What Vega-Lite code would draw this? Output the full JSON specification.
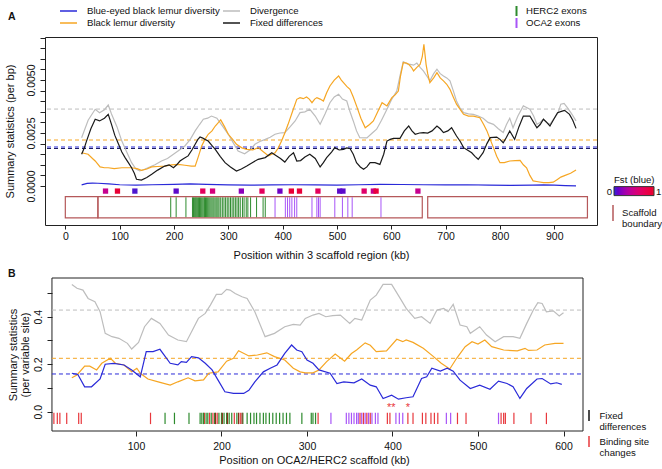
{
"$schema": "https://vega.github.io/schema/vega-lite/v6.json",
"padding": {"left": 3, "top": 5, "right": 0, "bottom": 0},
"config": {
  "font": "Liberation Sans",
  "view": {"stroke": "#222222", "strokeWidth": 1},
  "axis": {"domain": false, "grid": false, "tickColor": "#222222", "labelColor": "#111111", "titleColor": "#111111", "labelFontSize": 10.5, "titleFontSize": 11, "titleFontWeight": "normal", "labelFlush": false, "labelBound": false, "labelOverlap": false},
  "legend": {"labelFontSize": 9.6, "titleFontSize": 9.6, "titleFontWeight": "normal", "labelColor": "#111111", "titleColor": "#111111", "padding": 0},
  "title": {"fontSize": 10.5, "fontWeight": "bold", "color": "#111111"}
},
"datasets": {
  "linesA": [
    {"s":"Divergence","x":30,"y":0.00228},{"s":"Divergence","x":42,"y":0.0031},{"s":"Divergence","x":55,"y":0.00362},{"s":"Divergence","x":63,"y":0.00346},{"s":"Divergence","x":72,"y":0.0036},{"s":"Divergence","x":79,"y":0.00382},{"s":"Divergence","x":85,"y":0.0034},{"s":"Divergence","x":95,"y":0.0028},{"s":"Divergence","x":104,"y":0.00212},{"s":"Divergence","x":113,"y":0.0016},{"s":"Divergence","x":122,"y":0.0011},{"s":"Divergence","x":130,"y":0.0008},{"s":"Divergence","x":137,"y":0.00071},{"s":"Divergence","x":145,"y":0.00078},{"s":"Divergence","x":152,"y":0.00086},{"s":"Divergence","x":165,"y":0.001},{"s":"Divergence","x":177,"y":0.00118},{"s":"Divergence","x":188,"y":0.0013},{"s":"Divergence","x":199,"y":0.0015},{"s":"Divergence","x":210,"y":0.0017},{"s":"Divergence","x":220,"y":0.00189},{"s":"Divergence","x":230,"y":0.0022},{"s":"Divergence","x":239,"y":0.0026},{"s":"Divergence","x":247,"y":0.0029},{"s":"Divergence","x":254,"y":0.00315},{"s":"Divergence","x":262,"y":0.0032},{"s":"Divergence","x":269,"y":0.0033},{"s":"Divergence","x":279,"y":0.0032},{"s":"Divergence","x":290,"y":0.0028},{"s":"Divergence","x":300,"y":0.00244},{"s":"Divergence","x":310,"y":0.002},{"s":"Divergence","x":318,"y":0.00165},{"s":"Divergence","x":330,"y":0.00152},{"s":"Divergence","x":340,"y":0.0017},{"s":"Divergence","x":349,"y":0.00197},{"s":"Divergence","x":358,"y":0.0021},{"s":"Divergence","x":368,"y":0.0022},{"s":"Divergence","x":377,"y":0.0023},{"s":"Divergence","x":386,"y":0.00244},{"s":"Divergence","x":395,"y":0.0025},{"s":"Divergence","x":404,"y":0.00252},{"s":"Divergence","x":414,"y":0.0028},{"s":"Divergence","x":423,"y":0.00307},{"s":"Divergence","x":432,"y":0.00346},{"s":"Divergence","x":441,"y":0.0035},{"s":"Divergence","x":450,"y":0.00362},{"s":"Divergence","x":460,"y":0.0033},{"s":"Divergence","x":469,"y":0.00291},{"s":"Divergence","x":478,"y":0.0034},{"s":"Divergence","x":487,"y":0.00393},{"s":"Divergence","x":495,"y":0.0042},{"s":"Divergence","x":503,"y":0.00433},{"s":"Divergence","x":510,"y":0.0041},{"s":"Divergence","x":518,"y":0.00401},{"s":"Divergence","x":524,"y":0.0035},{"s":"Divergence","x":530,"y":0.00307},{"s":"Divergence","x":536,"y":0.0026},{"s":"Divergence","x":542,"y":0.00228},{"s":"Divergence","x":555,"y":0.00227},{"s":"Divergence","x":565,"y":0.0025},{"s":"Divergence","x":573,"y":0.00268},{"s":"Divergence","x":582,"y":0.0031},{"s":"Divergence","x":592,"y":0.00362},{"s":"Divergence","x":601,"y":0.0041},{"s":"Divergence","x":610,"y":0.00448},{"s":"Divergence","x":616,"y":0.0052},{"s":"Divergence","x":622,"y":0.00587},{"s":"Divergence","x":630,"y":0.00575},{"s":"Divergence","x":635,"y":0.00574},{"s":"Divergence","x":641,"y":0.0057},{"s":"Divergence","x":647,"y":0.0058},{"s":"Divergence","x":653,"y":0.0056},{"s":"Divergence","x":659,"y":0.00543},{"s":"Divergence","x":665,"y":0.0052},{"s":"Divergence","x":671,"y":0.00496},{"s":"Divergence","x":678,"y":0.0053},{"s":"Divergence","x":684,"y":0.00551},{"s":"Divergence","x":690,"y":0.0053},{"s":"Divergence","x":696,"y":0.00519},{"s":"Divergence","x":702,"y":0.0051},{"s":"Divergence","x":708,"y":0.00496},{"s":"Divergence","x":714,"y":0.0045},{"s":"Divergence","x":720,"y":0.00401},{"s":"Divergence","x":726,"y":0.0037},{"s":"Divergence","x":733,"y":0.00346},{"s":"Divergence","x":742,"y":0.0034},{"s":"Divergence","x":751,"y":0.00338},{"s":"Divergence","x":760,"y":0.0033},{"s":"Divergence","x":769,"y":0.0032},{"s":"Divergence","x":778,"y":0.003},{"s":"Divergence","x":788,"y":0.00291},{"s":"Divergence","x":797,"y":0.0027},{"s":"Divergence","x":806,"y":0.00252},{"s":"Divergence","x":812,"y":0.0029},{"s":"Divergence","x":818,"y":0.0032},{"s":"Divergence","x":824,"y":0.00275},{"s":"Divergence","x":833,"y":0.0033},{"s":"Divergence","x":843,"y":0.00378},{"s":"Divergence","x":849,"y":0.0037},{"s":"Divergence","x":855,"y":0.00362},{"s":"Divergence","x":862,"y":0.0033},{"s":"Divergence","x":868,"y":0.00291},{"s":"Divergence","x":874,"y":0.003},{"s":"Divergence","x":880,"y":0.00316},{"s":"Divergence","x":886,"y":0.003},{"s":"Divergence","x":892,"y":0.00291},{"s":"Divergence","x":900,"y":0.0032},{"s":"Divergence","x":907,"y":0.00346},{"s":"Divergence","x":912,"y":0.00386},{"s":"Divergence","x":918,"y":0.0039},{"s":"Divergence","x":924,"y":0.0037},{"s":"Divergence","x":932,"y":0.0034},{"s":"Divergence","x":940,"y":0.00307},
    {"s":"Black lemur diversity","x":30,"y":0.00157},{"s":"Black lemur diversity","x":42,"y":0.0015},{"s":"Black lemur diversity","x":50,"y":0.0013},{"s":"Black lemur diversity","x":55,"y":0.00118},{"s":"Black lemur diversity","x":64,"y":0.0009},{"s":"Black lemur diversity","x":72,"y":0.00086},{"s":"Black lemur diversity","x":79,"y":0.00086},{"s":"Black lemur diversity","x":90,"y":0.00082},{"s":"Black lemur diversity","x":104,"y":0.00086},{"s":"Black lemur diversity","x":122,"y":0.00086},{"s":"Black lemur diversity","x":132,"y":0.00082},{"s":"Black lemur diversity","x":140,"y":0.00074},{"s":"Black lemur diversity","x":150,"y":0.0008},{"s":"Black lemur diversity","x":159,"y":0.0009},{"s":"Black lemur diversity","x":170,"y":0.00092},{"s":"Black lemur diversity","x":183,"y":0.00094},{"s":"Black lemur diversity","x":195,"y":0.001},{"s":"Black lemur diversity","x":208,"y":0.00102},{"s":"Black lemur diversity","x":220,"y":0.00098},{"s":"Black lemur diversity","x":232,"y":0.00094},{"s":"Black lemur diversity","x":239,"y":0.00094},{"s":"Black lemur diversity","x":245,"y":0.0014},{"s":"Black lemur diversity","x":251,"y":0.00189},{"s":"Black lemur diversity","x":257,"y":0.0022},{"s":"Black lemur diversity","x":263,"y":0.00244},{"s":"Black lemur diversity","x":270,"y":0.0026},{"s":"Black lemur diversity","x":276,"y":0.00283},{"s":"Black lemur diversity","x":282,"y":0.003},{"s":"Black lemur diversity","x":286,"y":0.00312},{"s":"Black lemur diversity","x":293,"y":0.0028},{"s":"Black lemur diversity","x":300,"y":0.00244},{"s":"Black lemur diversity","x":308,"y":0.0022},{"s":"Black lemur diversity","x":315,"y":0.00197},{"s":"Black lemur diversity","x":325,"y":0.0018},{"s":"Black lemur diversity","x":334,"y":0.00173},{"s":"Black lemur diversity","x":345,"y":0.0017},{"s":"Black lemur diversity","x":355,"y":0.00181},{"s":"Black lemur diversity","x":365,"y":0.0016},{"s":"Black lemur diversity","x":374,"y":0.00142},{"s":"Black lemur diversity","x":380,"y":0.0015},{"s":"Black lemur diversity","x":386,"y":0.00157},{"s":"Black lemur diversity","x":392,"y":0.0018},{"s":"Black lemur diversity","x":398,"y":0.00212},{"s":"Black lemur diversity","x":404,"y":0.0025},{"s":"Black lemur diversity","x":410,"y":0.00291},{"s":"Black lemur diversity","x":418,"y":0.0035},{"s":"Black lemur diversity","x":426,"y":0.00409},{"s":"Black lemur diversity","x":432,"y":0.00417},{"s":"Black lemur diversity","x":438,"y":0.00412},{"s":"Black lemur diversity","x":444,"y":0.0042},{"s":"Black lemur diversity","x":449,"y":0.0041},{"s":"Black lemur diversity","x":454,"y":0.00393},{"s":"Black lemur diversity","x":459,"y":0.0041},{"s":"Black lemur diversity","x":463,"y":0.00417},{"s":"Black lemur diversity","x":469,"y":0.0041},{"s":"Black lemur diversity","x":475,"y":0.00401},{"s":"Black lemur diversity","x":481,"y":0.0044},{"s":"Black lemur diversity","x":487,"y":0.00472},{"s":"Black lemur diversity","x":495,"y":0.005},{"s":"Black lemur diversity","x":503,"y":0.00519},{"s":"Black lemur diversity","x":508,"y":0.005},{"s":"Black lemur diversity","x":512,"y":0.00488},{"s":"Black lemur diversity","x":518,"y":0.0047},{"s":"Black lemur diversity","x":524,"y":0.00456},{"s":"Black lemur diversity","x":530,"y":0.0042},{"s":"Black lemur diversity","x":536,"y":0.00378},{"s":"Black lemur diversity","x":544,"y":0.0032},{"s":"Black lemur diversity","x":552,"y":0.00275},{"s":"Black lemur diversity","x":560,"y":0.0029},{"s":"Black lemur diversity","x":567,"y":0.00307},{"s":"Black lemur diversity","x":575,"y":0.0035},{"s":"Black lemur diversity","x":583,"y":0.00393},{"s":"Black lemur diversity","x":592,"y":0.00378},{"s":"Black lemur diversity","x":601,"y":0.00417},{"s":"Black lemur diversity","x":607,"y":0.0043},{"s":"Black lemur diversity","x":613,"y":0.00448},{"s":"Black lemur diversity","x":617,"y":0.0052},{"s":"Black lemur diversity","x":622,"y":0.00582},{"s":"Black lemur diversity","x":628,"y":0.0058},{"s":"Black lemur diversity","x":632,"y":0.00574},{"s":"Black lemur diversity","x":637,"y":0.0056},{"s":"Black lemur diversity","x":641,"y":0.00543},{"s":"Black lemur diversity","x":647,"y":0.0056},{"s":"Black lemur diversity","x":653,"y":0.00574},{"s":"Black lemur diversity","x":657,"y":0.0061},{"s":"Black lemur diversity","x":660,"y":0.00669},{"s":"Black lemur diversity","x":664,"y":0.00574},{"s":"Black lemur diversity","x":667,"y":0.0053},{"s":"Black lemur diversity","x":671,"y":0.00488},{"s":"Black lemur diversity","x":678,"y":0.0051},{"s":"Black lemur diversity","x":684,"y":0.00535},{"s":"Black lemur diversity","x":690,"y":0.0051},{"s":"Black lemur diversity","x":696,"y":0.00496},{"s":"Black lemur diversity","x":702,"y":0.0048},{"s":"Black lemur diversity","x":708,"y":0.00456},{"s":"Black lemur diversity","x":714,"y":0.0042},{"s":"Black lemur diversity","x":720,"y":0.00386},{"s":"Black lemur diversity","x":727,"y":0.0036},{"s":"Black lemur diversity","x":733,"y":0.00338},{"s":"Black lemur diversity","x":742,"y":0.0033},{"s":"Black lemur diversity","x":751,"y":0.0033},{"s":"Black lemur diversity","x":763,"y":0.00322},{"s":"Black lemur diversity","x":770,"y":0.0029},{"s":"Black lemur diversity","x":776,"y":0.0026},{"s":"Black lemur diversity","x":782,"y":0.0022},{"s":"Black lemur diversity","x":788,"y":0.00181},{"s":"Black lemur diversity","x":794,"y":0.0014},{"s":"Black lemur diversity","x":800,"y":0.0011},{"s":"Black lemur diversity","x":808,"y":0.0011},{"s":"Black lemur diversity","x":818,"y":0.00118},{"s":"Black lemur diversity","x":828,"y":0.0012},{"s":"Black lemur diversity","x":837,"y":0.00121},{"s":"Black lemur diversity","x":843,"y":0.001},{"s":"Black lemur diversity","x":849,"y":0.00086},{"s":"Black lemur diversity","x":855,"y":0.0005},{"s":"Black lemur diversity","x":861,"y":0.00024},{"s":"Black lemur diversity","x":870,"y":0.0002},{"s":"Black lemur diversity","x":880,"y":0.00016},{"s":"Black lemur diversity","x":890,"y":0.00016},{"s":"Black lemur diversity","x":898,"y":0.00018},{"s":"Black lemur diversity","x":905,"y":0.0003},{"s":"Black lemur diversity","x":912,"y":0.00042},{"s":"Black lemur diversity","x":920,"y":0.0005},{"s":"Black lemur diversity","x":930,"y":0.0006},{"s":"Black lemur diversity","x":940,"y":0.00076},
    {"s":"Fixed differences","x":30,"y":0.0015},{"s":"Fixed differences","x":35,"y":0.0018},{"s":"Fixed differences","x":39,"y":0.00212},{"s":"Fixed differences","x":47,"y":0.0027},{"s":"Fixed differences","x":55,"y":0.00315},{"s":"Fixed differences","x":63,"y":0.00307},{"s":"Fixed differences","x":72,"y":0.0032},{"s":"Fixed differences","x":79,"y":0.00338},{"s":"Fixed differences","x":85,"y":0.00291},{"s":"Fixed differences","x":91,"y":0.0024},{"s":"Fixed differences","x":98,"y":0.00197},{"s":"Fixed differences","x":104,"y":0.0016},{"s":"Fixed differences","x":110,"y":0.00134},{"s":"Fixed differences","x":116,"y":0.0011},{"s":"Fixed differences","x":122,"y":0.00086},{"s":"Fixed differences","x":127,"y":0.0006},{"s":"Fixed differences","x":131,"y":0.00032},{"s":"Fixed differences","x":140,"y":0.00028},{"s":"Fixed differences","x":150,"y":0.0004},{"s":"Fixed differences","x":159,"y":0.00055},{"s":"Fixed differences","x":170,"y":0.00075},{"s":"Fixed differences","x":183,"y":0.00094},{"s":"Fixed differences","x":191,"y":0.001},{"s":"Fixed differences","x":199,"y":0.00086},{"s":"Fixed differences","x":205,"y":0.001},{"s":"Fixed differences","x":211,"y":0.00118},{"s":"Fixed differences","x":218,"y":0.0013},{"s":"Fixed differences","x":226,"y":0.00142},{"s":"Fixed differences","x":233,"y":0.0017},{"s":"Fixed differences","x":239,"y":0.00197},{"s":"Fixed differences","x":244,"y":0.0022},{"s":"Fixed differences","x":248,"y":0.00231},{"s":"Fixed differences","x":253,"y":0.00226},{"s":"Fixed differences","x":257,"y":0.0022},{"s":"Fixed differences","x":263,"y":0.00212},{"s":"Fixed differences","x":270,"y":0.0019},{"s":"Fixed differences","x":276,"y":0.00173},{"s":"Fixed differences","x":285,"y":0.0014},{"s":"Fixed differences","x":294,"y":0.0011},{"s":"Fixed differences","x":304,"y":0.0009},{"s":"Fixed differences","x":315,"y":0.00071},{"s":"Fixed differences","x":324,"y":0.0008},{"s":"Fixed differences","x":334,"y":0.00094},{"s":"Fixed differences","x":344,"y":0.0011},{"s":"Fixed differences","x":355,"y":0.00126},{"s":"Fixed differences","x":368,"y":0.00134},{"s":"Fixed differences","x":380,"y":0.00157},{"s":"Fixed differences","x":389,"y":0.00142},{"s":"Fixed differences","x":396,"y":0.0013},{"s":"Fixed differences","x":404,"y":0.00113},{"s":"Fixed differences","x":412,"y":0.0014},{"s":"Fixed differences","x":420,"y":0.00157},{"s":"Fixed differences","x":426,"y":0.00118},{"s":"Fixed differences","x":433,"y":0.0012},{"s":"Fixed differences","x":441,"y":0.00137},{"s":"Fixed differences","x":450,"y":0.0015},{"s":"Fixed differences","x":460,"y":0.0013},{"s":"Fixed differences","x":469,"y":0.0009},{"s":"Fixed differences","x":475,"y":0.0011},{"s":"Fixed differences","x":481,"y":0.00134},{"s":"Fixed differences","x":490,"y":0.0016},{"s":"Fixed differences","x":496,"y":0.00181},{"s":"Fixed differences","x":504,"y":0.0017},{"s":"Fixed differences","x":512,"y":0.00173},{"s":"Fixed differences","x":518,"y":0.0018},{"s":"Fixed differences","x":524,"y":0.00177},{"s":"Fixed differences","x":530,"y":0.0015},{"s":"Fixed differences","x":536,"y":0.0011},{"s":"Fixed differences","x":543,"y":0.0009},{"s":"Fixed differences","x":549,"y":0.00079},{"s":"Fixed differences","x":555,"y":0.0009},{"s":"Fixed differences","x":561,"y":0.0011},{"s":"Fixed differences","x":570,"y":0.0011},{"s":"Fixed differences","x":579,"y":0.00102},{"s":"Fixed differences","x":586,"y":0.0015},{"s":"Fixed differences","x":592,"y":0.00212},{"s":"Fixed differences","x":598,"y":0.0022},{"s":"Fixed differences","x":604,"y":0.00225},{"s":"Fixed differences","x":616,"y":0.00225},{"s":"Fixed differences","x":624,"y":0.0026},{"s":"Fixed differences","x":632,"y":0.00283},{"s":"Fixed differences","x":638,"y":0.0026},{"s":"Fixed differences","x":644,"y":0.00244},{"s":"Fixed differences","x":652,"y":0.0025},{"s":"Fixed differences","x":659,"y":0.00252},{"s":"Fixed differences","x":667,"y":0.0025},{"s":"Fixed differences","x":675,"y":0.0026},{"s":"Fixed differences","x":684,"y":0.00283},{"s":"Fixed differences","x":690,"y":0.0027},{"s":"Fixed differences","x":696,"y":0.00252},{"s":"Fixed differences","x":704,"y":0.0026},{"s":"Fixed differences","x":711,"y":0.00275},{"s":"Fixed differences","x":720,"y":0.00236},{"s":"Fixed differences","x":727,"y":0.0021},{"s":"Fixed differences","x":733,"y":0.00181},{"s":"Fixed differences","x":740,"y":0.0017},{"s":"Fixed differences","x":748,"y":0.00157},{"s":"Fixed differences","x":754,"y":0.0014},{"s":"Fixed differences","x":760,"y":0.00126},{"s":"Fixed differences","x":769,"y":0.00157},{"s":"Fixed differences","x":776,"y":0.002},{"s":"Fixed differences","x":782,"y":0.00228},{"s":"Fixed differences","x":794,"y":0.00231},{"s":"Fixed differences","x":800,"y":0.0022},{"s":"Fixed differences","x":806,"y":0.00204},{"s":"Fixed differences","x":812,"y":0.0023},{"s":"Fixed differences","x":818,"y":0.0026},{"s":"Fixed differences","x":827,"y":0.0022},{"s":"Fixed differences","x":835,"y":0.0028},{"s":"Fixed differences","x":843,"y":0.0033},{"s":"Fixed differences","x":855,"y":0.0033},{"s":"Fixed differences","x":862,"y":0.003},{"s":"Fixed differences","x":868,"y":0.00275},{"s":"Fixed differences","x":874,"y":0.0029},{"s":"Fixed differences","x":880,"y":0.00315},{"s":"Fixed differences","x":886,"y":0.003},{"s":"Fixed differences","x":892,"y":0.00283},{"s":"Fixed differences","x":898,"y":0.0031},{"s":"Fixed differences","x":906,"y":0.00346},{"s":"Fixed differences","x":913,"y":0.00352},{"s":"Fixed differences","x":919,"y":0.00357},{"s":"Fixed differences","x":928,"y":0.00338},{"s":"Fixed differences","x":934,"y":0.0031},{"s":"Fixed differences","x":940,"y":0.00272},
    {"s":"Blue-eyed black lemur diversity","x":30,"y":0.00005},{"s":"Blue-eyed black lemur diversity","x":40,"y":0.00012},{"s":"Blue-eyed black lemur diversity","x":50,"y":0.00014},{"s":"Blue-eyed black lemur diversity","x":60,"y":0.00013},{"s":"Blue-eyed black lemur diversity","x":80,"y":0.0001},{"s":"Blue-eyed black lemur diversity","x":100,"y":0.00006},{"s":"Blue-eyed black lemur diversity","x":130,"y":0.00004},{"s":"Blue-eyed black lemur diversity","x":160,"y":0.00006},{"s":"Blue-eyed black lemur diversity","x":200,"y":0.00008},{"s":"Blue-eyed black lemur diversity","x":230,"y":0.0001},{"s":"Blue-eyed black lemur diversity","x":260,"y":0.00008},{"s":"Blue-eyed black lemur diversity","x":300,"y":0.00005},{"s":"Blue-eyed black lemur diversity","x":340,"y":0.00004},{"s":"Blue-eyed black lemur diversity","x":380,"y":0.00005},{"s":"Blue-eyed black lemur diversity","x":420,"y":0.00006},{"s":"Blue-eyed black lemur diversity","x":460,"y":0.00005},{"s":"Blue-eyed black lemur diversity","x":500,"y":0.00004},{"s":"Blue-eyed black lemur diversity","x":540,"y":0.00006},{"s":"Blue-eyed black lemur diversity","x":580,"y":0.00008},{"s":"Blue-eyed black lemur diversity","x":620,"y":0.00007},{"s":"Blue-eyed black lemur diversity","x":660,"y":0.00006},{"s":"Blue-eyed black lemur diversity","x":700,"y":0.00005},{"s":"Blue-eyed black lemur diversity","x":740,"y":0.00006},{"s":"Blue-eyed black lemur diversity","x":780,"y":0.00004},{"s":"Blue-eyed black lemur diversity","x":820,"y":0.00003},{"s":"Blue-eyed black lemur diversity","x":860,"y":0.00004},{"s":"Blue-eyed black lemur diversity","x":880,"y":0.00005},{"s":"Blue-eyed black lemur diversity","x":900,"y":0.00004},{"s":"Blue-eyed black lemur diversity","x":920,"y":0.00002},{"s":"Blue-eyed black lemur diversity","x":940,"y":0.00001}
  ],
  "meansA": [
    {"s":"Divergence","y":0.00363},{"s":"Black lemur diversity","y":0.00217},{"s":"Blue-eyed black lemur diversity","y":0.00184},{"s":"Fixed differences","y":0.00177}
  ],
  "fst": [
    {"x":74,"f":0.45},{"x":96,"f":0.95},{"x":128,"f":0.05},{"x":204,"f":0.08},{"x":253,"f":0.72},{"x":271,"f":0.55},{"x":324,"f":0.2},{"x":362,"f":0.72},{"x":395,"f":0.12},{"x":416,"f":0.95},{"x":431,"f":0.92},{"x":465,"f":0.72},{"x":505,"f":0.08},{"x":511,"f":0.08},{"x":550,"f":0.65},{"x":567,"f":0.45},{"x":572,"f":0.9},{"x":649,"f":0.45}
  ],
  "boxes": [
    {"start":0,"end":60,"k":"Scaffold boundary"},{"start":60,"end":657,"k":"Scaffold boundary"},{"start":667,"end":961,"k":"Scaffold boundary"}
  ],
  "exonsA": [
    {"g":"HERC2 exons","x":194},{"g":"HERC2 exons","x":204},{"g":"HERC2 exons","x":222},{"g":"HERC2 exons","x":234},{"g":"HERC2 exons","x":236},{"g":"HERC2 exons","x":238},{"g":"HERC2 exons","x":240},{"g":"HERC2 exons","x":241},{"g":"HERC2 exons","x":243},{"g":"HERC2 exons","x":245},{"g":"HERC2 exons","x":247},{"g":"HERC2 exons","x":249},{"g":"HERC2 exons","x":251},{"g":"HERC2 exons","x":253},{"g":"HERC2 exons","x":255},{"g":"HERC2 exons","x":256},{"g":"HERC2 exons","x":258},{"g":"HERC2 exons","x":260},{"g":"HERC2 exons","x":262},{"g":"HERC2 exons","x":264},{"g":"HERC2 exons","x":266},{"g":"HERC2 exons","x":268},{"g":"HERC2 exons","x":270},{"g":"HERC2 exons","x":272},{"g":"HERC2 exons","x":274},{"g":"HERC2 exons","x":277},{"g":"HERC2 exons","x":279},{"g":"HERC2 exons","x":281},{"g":"HERC2 exons","x":283},{"g":"HERC2 exons","x":286},{"g":"HERC2 exons","x":289},{"g":"HERC2 exons","x":292},{"g":"HERC2 exons","x":295},{"g":"HERC2 exons","x":298},{"g":"HERC2 exons","x":301},{"g":"HERC2 exons","x":304},{"g":"HERC2 exons","x":307},{"g":"HERC2 exons","x":310},{"g":"HERC2 exons","x":313},{"g":"HERC2 exons","x":316},{"g":"HERC2 exons","x":319},{"g":"HERC2 exons","x":322},{"g":"HERC2 exons","x":326},{"g":"HERC2 exons","x":329},{"g":"HERC2 exons","x":333},{"g":"HERC2 exons","x":336},{"g":"HERC2 exons","x":341},{"g":"HERC2 exons","x":352},{"g":"HERC2 exons","x":364},{"g":"HERC2 exons","x":368},
    {"g":"OCA2 exons","x":386},{"g":"OCA2 exons","x":405},{"g":"OCA2 exons","x":409},{"g":"OCA2 exons","x":413},{"g":"OCA2 exons","x":417},{"g":"OCA2 exons","x":422},{"g":"OCA2 exons","x":426},{"g":"OCA2 exons","x":454},{"g":"OCA2 exons","x":463},{"g":"OCA2 exons","x":466},{"g":"OCA2 exons","x":469},{"g":"OCA2 exons","x":496},{"g":"OCA2 exons","x":510},{"g":"OCA2 exons","x":520},{"g":"OCA2 exons","x":528},{"g":"OCA2 exons","x":581}
  ],
  "linesB": [
    {"s":"Divergence","x":25,"y":0.536},{"s":"Divergence","x":31,"y":0.52},{"s":"Divergence","x":38,"y":0.512},{"s":"Divergence","x":44,"y":0.477},{"s":"Divergence","x":52,"y":0.463},{"s":"Divergence","x":58,"y":0.421},{"s":"Divergence","x":64,"y":0.33},{"s":"Divergence","x":72,"y":0.316},{"s":"Divergence","x":80,"y":0.309},{"s":"Divergence","x":90,"y":0.288},{"s":"Divergence","x":95,"y":0.264},{"s":"Divergence","x":103,"y":0.292},{"s":"Divergence","x":110,"y":0.358},{"s":"Divergence","x":118,"y":0.393},{"s":"Divergence","x":128,"y":0.372},{"s":"Divergence","x":138,"y":0.323},{"s":"Divergence","x":149,"y":0.302},{"s":"Divergence","x":159,"y":0.295},{"s":"Divergence","x":165,"y":0.337},{"s":"Divergence","x":173,"y":0.393},{"s":"Divergence","x":181,"y":0.414},{"s":"Divergence","x":187,"y":0.449},{"s":"Divergence","x":194,"y":0.494},{"s":"Divergence","x":200,"y":0.494},{"s":"Divergence","x":206,"y":0.515},{"s":"Divergence","x":210,"y":0.512},{"s":"Divergence","x":216,"y":0.498},{"s":"Divergence","x":224,"y":0.484},{"s":"Divergence","x":230,"y":0.477},{"s":"Divergence","x":239,"y":0.421},{"s":"Divergence","x":251,"y":0.316},{"s":"Divergence","x":262,"y":0.33},{"s":"Divergence","x":274,"y":0.358},{"s":"Divergence","x":284,"y":0.368},{"s":"Divergence","x":292,"y":0.365},{"s":"Divergence","x":298,"y":0.393},{"s":"Divergence","x":307,"y":0.407},{"s":"Divergence","x":314,"y":0.414},{"s":"Divergence","x":322,"y":0.4},{"s":"Divergence","x":330,"y":0.405},{"s":"Divergence","x":339,"y":0.407},{"s":"Divergence","x":350,"y":0.372},{"s":"Divergence","x":356,"y":0.393},{"s":"Divergence","x":364,"y":0.386},{"s":"Divergence","x":374,"y":0.47},{"s":"Divergence","x":381,"y":0.491},{"s":"Divergence","x":389,"y":0.536},{"s":"Divergence","x":399,"y":0.536},{"s":"Divergence","x":409,"y":0.477},{"s":"Divergence","x":416,"y":0.435},{"s":"Divergence","x":426,"y":0.393},{"s":"Divergence","x":434,"y":0.4},{"s":"Divergence","x":444,"y":0.372},{"s":"Divergence","x":452,"y":0.428},{"s":"Divergence","x":460,"y":0.435},{"s":"Divergence","x":465,"y":0.421},{"s":"Divergence","x":471,"y":0.452},{"s":"Divergence","x":479,"y":0.365},{"s":"Divergence","x":487,"y":0.358},{"s":"Divergence","x":491,"y":0.33},{"s":"Divergence","x":502,"y":0.358},{"s":"Divergence","x":510,"y":0.323},{"s":"Divergence","x":520,"y":0.295},{"s":"Divergence","x":530,"y":0.316},{"s":"Divergence","x":541,"y":0.316},{"s":"Divergence","x":549,"y":0.309},{"s":"Divergence","x":557,"y":0.372},{"s":"Divergence","x":565,"y":0.43},{"s":"Divergence","x":570,"y":0.459},{"s":"Divergence","x":575,"y":0.456},{"s":"Divergence","x":580,"y":0.421},{"s":"Divergence","x":588,"y":0.425},{"s":"Divergence","x":595,"y":0.403},{"s":"Divergence","x":600,"y":0.417},
    {"s":"Black lemur diversity","x":25,"y":0.143},{"s":"Black lemur diversity","x":31,"y":0.155},{"s":"Black lemur diversity","x":40,"y":0.192},{"s":"Black lemur diversity","x":46,"y":0.192},{"s":"Black lemur diversity","x":54,"y":0.176},{"s":"Black lemur diversity","x":60,"y":0.204},{"s":"Black lemur diversity","x":70,"y":0.225},{"s":"Black lemur diversity","x":76,"y":0.204},{"s":"Black lemur diversity","x":86,"y":0.197},{"s":"Black lemur diversity","x":95,"y":0.168},{"s":"Black lemur diversity","x":101,"y":0.183},{"s":"Black lemur diversity","x":105,"y":0.162},{"s":"Black lemur diversity","x":114,"y":0.138},{"s":"Black lemur diversity","x":126,"y":0.126},{"s":"Black lemur diversity","x":140,"y":0.112},{"s":"Black lemur diversity","x":149,"y":0.126},{"s":"Black lemur diversity","x":161,"y":0.143},{"s":"Black lemur diversity","x":169,"y":0.13},{"s":"Black lemur diversity","x":179,"y":0.134},{"s":"Black lemur diversity","x":185,"y":0.162},{"s":"Black lemur diversity","x":196,"y":0.168},{"s":"Black lemur diversity","x":206,"y":0.213},{"s":"Black lemur diversity","x":214,"y":0.225},{"s":"Black lemur diversity","x":220,"y":0.257},{"s":"Black lemur diversity","x":232,"y":0.235},{"s":"Black lemur diversity","x":242,"y":0.239},{"s":"Black lemur diversity","x":253,"y":0.248},{"s":"Black lemur diversity","x":262,"y":0.232},{"s":"Black lemur diversity","x":274,"y":0.218},{"s":"Black lemur diversity","x":284,"y":0.183},{"s":"Black lemur diversity","x":292,"y":0.168},{"s":"Black lemur diversity","x":298,"y":0.164},{"s":"Black lemur diversity","x":307,"y":0.164},{"s":"Black lemur diversity","x":314,"y":0.176},{"s":"Black lemur diversity","x":323,"y":0.211},{"s":"Black lemur diversity","x":333,"y":0.243},{"s":"Black lemur diversity","x":344,"y":0.213},{"s":"Black lemur diversity","x":352,"y":0.245},{"s":"Black lemur diversity","x":358,"y":0.26},{"s":"Black lemur diversity","x":368,"y":0.29},{"s":"Black lemur diversity","x":374,"y":0.28},{"s":"Black lemur diversity","x":381,"y":0.253},{"s":"Black lemur diversity","x":393,"y":0.256},{"s":"Black lemur diversity","x":405,"y":0.305},{"s":"Black lemur diversity","x":412,"y":0.295},{"s":"Black lemur diversity","x":416,"y":0.302},{"s":"Black lemur diversity","x":424,"y":0.292},{"s":"Black lemur diversity","x":436,"y":0.267},{"s":"Black lemur diversity","x":448,"y":0.232},{"s":"Black lemur diversity","x":457,"y":0.204},{"s":"Black lemur diversity","x":467,"y":0.18},{"s":"Black lemur diversity","x":475,"y":0.225},{"s":"Black lemur diversity","x":485,"y":0.274},{"s":"Black lemur diversity","x":493,"y":0.295},{"s":"Black lemur diversity","x":500,"y":0.285},{"s":"Black lemur diversity","x":508,"y":0.302},{"s":"Black lemur diversity","x":516,"y":0.274},{"s":"Black lemur diversity","x":530,"y":0.26},{"s":"Black lemur diversity","x":546,"y":0.256},{"s":"Black lemur diversity","x":555,"y":0.267},{"s":"Black lemur diversity","x":559,"y":0.258},{"s":"Black lemur diversity","x":569,"y":0.26},{"s":"Black lemur diversity","x":578,"y":0.281},{"s":"Black lemur diversity","x":590,"y":0.288},{"s":"Black lemur diversity","x":600,"y":0.288},
    {"s":"Blue-eyed black lemur diversity","x":25,"y":0.162},{"s":"Blue-eyed black lemur diversity","x":32,"y":0.157},{"s":"Blue-eyed black lemur diversity","x":40,"y":0.105},{"s":"Blue-eyed black lemur diversity","x":48,"y":0.105},{"s":"Blue-eyed black lemur diversity","x":58,"y":0.138},{"s":"Blue-eyed black lemur diversity","x":64,"y":0.2},{"s":"Blue-eyed black lemur diversity","x":74,"y":0.204},{"s":"Blue-eyed black lemur diversity","x":86,"y":0.197},{"s":"Blue-eyed black lemur diversity","x":95,"y":0.176},{"s":"Blue-eyed black lemur diversity","x":105,"y":0.147},{"s":"Blue-eyed black lemur diversity","x":112,"y":0.253},{"s":"Blue-eyed black lemur diversity","x":120,"y":0.253},{"s":"Blue-eyed black lemur diversity","x":128,"y":0.263},{"s":"Blue-eyed black lemur diversity","x":140,"y":0.204},{"s":"Blue-eyed black lemur diversity","x":149,"y":0.197},{"s":"Blue-eyed black lemur diversity","x":153,"y":0.211},{"s":"Blue-eyed black lemur diversity","x":159,"y":0.208},{"s":"Blue-eyed black lemur diversity","x":165,"y":0.232},{"s":"Blue-eyed black lemur diversity","x":173,"y":0.227},{"s":"Blue-eyed black lemur diversity","x":181,"y":0.204},{"s":"Blue-eyed black lemur diversity","x":189,"y":0.176},{"s":"Blue-eyed black lemur diversity","x":196,"y":0.133},{"s":"Blue-eyed black lemur diversity","x":204,"y":0.084},{"s":"Blue-eyed black lemur diversity","x":214,"y":0.077},{"s":"Blue-eyed black lemur diversity","x":226,"y":0.077},{"s":"Blue-eyed black lemur diversity","x":232,"y":0.09},{"s":"Blue-eyed black lemur diversity","x":239,"y":0.126},{"s":"Blue-eyed black lemur diversity","x":249,"y":0.168},{"s":"Blue-eyed black lemur diversity","x":257,"y":0.183},{"s":"Blue-eyed black lemur diversity","x":265,"y":0.197},{"s":"Blue-eyed black lemur diversity","x":274,"y":0.246},{"s":"Blue-eyed black lemur diversity","x":282,"y":0.281},{"s":"Blue-eyed black lemur diversity","x":288,"y":0.26},{"s":"Blue-eyed black lemur diversity","x":294,"y":0.253},{"s":"Blue-eyed black lemur diversity","x":300,"y":0.218},{"s":"Blue-eyed black lemur diversity","x":307,"y":0.204},{"s":"Blue-eyed black lemur diversity","x":314,"y":0.176},{"s":"Blue-eyed black lemur diversity","x":327,"y":0.162},{"s":"Blue-eyed black lemur diversity","x":335,"y":0.119},{"s":"Blue-eyed black lemur diversity","x":343,"y":0.126},{"s":"Blue-eyed black lemur diversity","x":355,"y":0.122},{"s":"Blue-eyed black lemur diversity","x":364,"y":0.138},{"s":"Blue-eyed black lemur diversity","x":374,"y":0.112},{"s":"Blue-eyed black lemur diversity","x":381,"y":0.105},{"s":"Blue-eyed black lemur diversity","x":389,"y":0.056},{"s":"Blue-eyed black lemur diversity","x":399,"y":0.07},{"s":"Blue-eyed black lemur diversity","x":407,"y":0.053},{"s":"Blue-eyed black lemur diversity","x":416,"y":0.059},{"s":"Blue-eyed black lemur diversity","x":424,"y":0.063},{"s":"Blue-eyed black lemur diversity","x":434,"y":0.14},{"s":"Blue-eyed black lemur diversity","x":440,"y":0.147},{"s":"Blue-eyed black lemur diversity","x":446,"y":0.183},{"s":"Blue-eyed black lemur diversity","x":456,"y":0.171},{"s":"Blue-eyed black lemur diversity","x":464,"y":0.183},{"s":"Blue-eyed black lemur diversity","x":471,"y":0.171},{"s":"Blue-eyed black lemur diversity","x":479,"y":0.133},{"s":"Blue-eyed black lemur diversity","x":491,"y":0.098},{"s":"Blue-eyed black lemur diversity","x":502,"y":0.112},{"s":"Blue-eyed black lemur diversity","x":514,"y":0.095},{"s":"Blue-eyed black lemur diversity","x":524,"y":0.129},{"s":"Blue-eyed black lemur diversity","x":534,"y":0.119},{"s":"Blue-eyed black lemur diversity","x":541,"y":0.105},{"s":"Blue-eyed black lemur diversity","x":549,"y":0.056},{"s":"Blue-eyed black lemur diversity","x":557,"y":0.098},{"s":"Blue-eyed black lemur diversity","x":569,"y":0.138},{"s":"Blue-eyed black lemur diversity","x":575,"y":0.14},{"s":"Blue-eyed black lemur diversity","x":585,"y":0.117},{"s":"Blue-eyed black lemur diversity","x":592,"y":0.122},{"s":"Blue-eyed black lemur diversity","x":598,"y":0.115}
  ],
  "meansB": [
    {"s":"Divergence","y":0.428},{"s":"Black lemur diversity","y":0.225},{"s":"Blue-eyed black lemur diversity","y":0.159}
  ],
  "ticksB": [
    {"c":"Binding site changes","x":4},{"c":"Binding site changes","x":8},{"c":"Binding site changes","x":11},{"c":"Binding site changes","x":19},{"c":"Binding site changes","x":33},{"c":"Binding site changes","x":36},{"c":"Binding site changes","x":117},{"c":"Binding site changes","x":180},{"c":"Binding site changes","x":186},{"c":"Binding site changes","x":190},{"c":"Binding site changes","x":195},{"c":"Binding site changes","x":215},{"c":"Binding site changes","x":222},{"c":"Binding site changes","x":313},{"c":"Binding site changes","x":362},{"c":"Binding site changes","x":366},{"c":"Binding site changes","x":370},{"c":"Binding site changes","x":374},{"c":"Binding site changes","x":394},{"c":"Binding site changes","x":397},{"c":"Binding site changes","x":418},{"c":"Binding site changes","x":424},{"c":"Binding site changes","x":435},{"c":"Binding site changes","x":439},{"c":"Binding site changes","x":445},{"c":"Binding site changes","x":449},{"c":"Binding site changes","x":453},{"c":"Binding site changes","x":476},{"c":"Binding site changes","x":486},{"c":"Binding site changes","x":527},{"c":"Binding site changes","x":530},{"c":"Binding site changes","x":532},{"c":"Binding site changes","x":542},{"c":"Binding site changes","x":562},{"c":"Binding site changes","x":580},
    {"c":"HERC2","x":134},{"c":"HERC2","x":145},{"c":"HERC2","x":162},{"c":"HERC2","x":175},{"c":"HERC2","x":177},{"c":"HERC2","x":179},{"c":"HERC2","x":182},{"c":"HERC2","x":184},{"c":"HERC2","x":188},{"c":"HERC2","x":192},{"c":"HERC2","x":197},{"c":"HERC2","x":200},{"c":"HERC2","x":203},{"c":"HERC2","x":206},{"c":"HERC2","x":209},{"c":"HERC2","x":212},{"c":"HERC2","x":218},{"c":"HERC2","x":225},{"c":"HERC2","x":230},{"c":"HERC2","x":234},{"c":"HERC2","x":238},{"c":"HERC2","x":241},{"c":"HERC2","x":245},{"c":"HERC2","x":249},{"c":"HERC2","x":252},{"c":"HERC2","x":256},{"c":"HERC2","x":260},{"c":"HERC2","x":264},{"c":"HERC2","x":268},{"c":"HERC2","x":272},{"c":"HERC2","x":276},{"c":"HERC2","x":280},{"c":"HERC2","x":294},{"c":"HERC2","x":305},{"c":"HERC2","x":307},{"c":"HERC2","x":310},
    {"c":"Both","x":193},{"c":"Both","x":201},{"c":"Both","x":207},{"c":"Both","x":220},{"c":"Both","x":224},
    {"c":"OCA2","x":328},{"c":"OCA2","x":346},{"c":"OCA2","x":349},{"c":"OCA2","x":352},{"c":"OCA2","x":355},{"c":"OCA2","x":358},{"c":"OCA2","x":360},{"c":"OCA2","x":364},{"c":"OCA2","x":368},{"c":"OCA2","x":372},{"c":"OCA2","x":376},{"c":"OCA2","x":380},{"c":"OCA2","x":383},{"c":"OCA2","x":404},{"c":"OCA2","x":408},{"c":"OCA2","x":412},{"c":"OCA2","x":463},{"c":"OCA2","x":468},{"c":"OCA2","x":524}
  ],
  "stars": [{"x":396},{"x":401},{"x":418}]
},
"columns": 1,
"align": "all",
"spacing": 7,
"resolve": {"scale": {"color": "independent", "stroke": "independent"}, "legend": {"color": "independent", "stroke": "independent"}},
"concat": [
  {
    "width": 552, "height": 188,
    "title": {"text": "A", "anchor": "start", "frame": "group", "dx": -37, "dy": 24, "offset": 0, "baseline": "alphabetic"},
    "resolve": {"scale": {"color": "independent", "stroke": "independent"}, "legend": {"color": "independent", "stroke": "independent"}},
    "layer": [
      {
        "data": {"name": "exonsA"},
        "mark": {"type": "rule", "strokeWidth": 1},
        "encoding": {
          "x": {"field": "x", "type": "quantitative", "scale": {"domain": [-37.4, 978.6], "nice": false, "zero": false}},
          "y": {"datum": -0.00053, "type": "quantitative", "scale": {"domain": [-0.00184, 0.00703], "nice": false, "zero": false}},
          "y2": {"datum": -0.00148},
          "stroke": {"field": "g", "type": "nominal", "scale": {"domain": ["HERC2 exons", "OCA2 exons"], "range": ["#2e8b2e", "#a855f7"]},
                    "legend": {"orient": "none", "legendX": 465, "legendY": -31, "title": null, "symbolType": "M0,-1L0,1", "symbolSize": 121, "symbolStrokeWidth": 2, "labelOffset": 3, "clipHeight": 10}}
        }
      },
      {
        "data": {"name": "meansA"},
        "mark": {"type": "rule", "strokeDash": [4, 3], "strokeWidth": 1},
        "encoding": {
          "y": {"field": "y", "type": "quantitative", "scale": {"domain": [-0.00184, 0.00703], "nice": false, "zero": false}},
          "color": {"field": "s", "type": "nominal", "scale": {"domain": ["Blue-eyed black lemur diversity", "Black lemur diversity", "Divergence", "Fixed differences"], "range": ["#2a2ad8", "#f6a623", "#bdbdbd", "#1a1a60"]}, "legend": null}
        }
      },
      {
        "data": {"name": "linesA"},
        "mark": {"type": "line", "strokeWidth": 1.2},
        "encoding": {
          "x": {"field": "x", "type": "quantitative", "scale": {"domain": [-37.4, 978.6], "nice": false, "zero": false},
                "axis": {"values": [0, 100, 200, 300, 400, 500, 600, 700, 800, 900], "tickCount": 20, "title": "Position within 3 scaffold region (kb)", "tickSize": 4, "labelPadding": 2, "titlePadding": 8, "labelOverlap": false}},
          "y": {"field": "y", "type": "quantitative", "scale": {"domain": [-0.00184, 0.00703], "nice": false, "zero": false},
                "axis": {"values": [0, 0.0005, 0.001, 0.0015, 0.002, 0.0025, 0.003, 0.0035, 0.004, 0.0045, 0.005, 0.0055, 0.006, 0.0065, 0.007], "tickCount": 30,
                         "labelExpr": "indexof([0, 0.0025, 0.005], datum.value) >= 0 ? format(datum.value, '.4f') : ''",
                         "labelAngle": -90, "labelAlign": "center", "labelBaseline": "bottom", "tickSize": 5, "labelPadding": 4, "labelOverlap": false,
                         "title": "Summary statistics (per bp)", "titleX": -30, "titleY": 94}},
          "color": {"field": "s", "type": "nominal", "scale": {"domain": ["Blue-eyed black lemur diversity", "Black lemur diversity", "Divergence", "Fixed differences"], "range": ["#2a2ad8", "#f6a623", "#bdbdbd", "#1a1a1a"]},
                    "legend": {"orient": "none", "legendX": 14, "legendY": -31, "columns": 2, "title": null, "symbolType": "stroke", "symbolSize": 289, "symbolStrokeWidth": 1.5, "labelOffset": 9, "columnPadding": 2, "labelLimit": 300, "clipHeight": 10}}
        }
      },
      {
        "data": {"name": "boxes"},
        "mark": {"type": "rect", "filled": false, "strokeWidth": 1.2},
        "encoding": {
          "x": {"field": "start", "type": "quantitative", "scale": {"domain": [-37.4, 978.6], "nice": false, "zero": false}},
          "x2": {"field": "end"},
          "y": {"datum": -0.000505, "type": "quantitative"},
          "y2": {"datum": -0.0015},
          "color": {"field": "k", "type": "nominal", "scale": {"domain": ["Scaffold boundary"], "range": ["#b5585a"]},
                    "legend": {"orient": "none", "legendX": 559, "legendY": 167, "title": null, "symbolType": "M0,-1L0,1", "symbolSize": 256, "symbolStrokeWidth": 1.5, "labelOffset": 0, "labelExpr": "split(datum.label, ' ')",
                               "encoding": {"labels": {"lineHeight": {"value": 11}}}}}
        }
      },
      {
        "data": {"name": "fst"},
        "mark": {"type": "square", "size": 28, "opacity": 1},
        "encoding": {
          "x": {"field": "x", "type": "quantitative", "scale": {"domain": [-37.4, 978.6], "nice": false, "zero": false}},
          "y": {"datum": -0.00024, "type": "quantitative"},
          "color": {"field": "f", "type": "quantitative", "scale": {"domain": [0, 1], "range": ["#2323d4", "#e8192c"]},
                    "legend": {"type": "gradient", "orient": "none", "legendX": 569, "legendY": 138, "direction": "horizontal", "title": "Fst (blue)", "gradientLength": 40, "gradientThickness": 9, "gradientStrokeColor": "#333333", "gradientStrokeWidth": 1, "values": [0, 1], "format": "d", "titlePadding": 2, "labelFontSize": 9.6, "labelOffset": -9,
                               "encoding": {"labels": {"align": {"value": {"signal": "datum.value == 0 ? 'right' : 'left'"}}, "dx": {"value": {"signal": "datum.value == 0 ? -2 : 2"}}}}}}
        }
      }
    ]
  },
  {
    "width": 538, "height": 153,
    "view": {"stroke": null},
    "title": {"text": "B", "anchor": "start", "frame": "group", "dx": -37, "dy": 10.5, "offset": 1, "baseline": "alphabetic"},
    "resolve": {"scale": {"color": "independent"}, "legend": {"color": "independent"}},
    "layer": [
      {
        "data": {"values": [{}]},
        "mark": {"type": "rect", "filled": false, "stroke": "#222222", "strokeWidth": 1},
        "encoding": {
          "x": {"datum": 1.75, "type": "quantitative", "scale": {"domain": [-6.4, 622.8], "nice": false, "zero": false}},
          "x2": {"datum": 622.8},
          "y": {"datum": -0.081, "type": "quantitative", "scale": {"domain": [-0.081, 0.563], "nice": false, "zero": false}},
          "y2": {"datum": 0.563}
        }
      },
      {
        "data": {"name": "meansB"},
        "mark": {"type": "rule", "strokeDash": [4, 3], "strokeWidth": 1},
        "encoding": {
          "x": {"datum": 1.75, "type": "quantitative", "scale": {"domain": [-6.4, 622.8], "nice": false, "zero": false}},
          "x2": {"datum": 622.8},
          "y": {"field": "y", "type": "quantitative", "scale": {"domain": [-0.081, 0.563], "nice": false, "zero": false}},
          "color": {"field": "s", "type": "nominal", "scale": {"domain": ["Blue-eyed black lemur diversity", "Divergence", "Black lemur diversity"], "range": ["#2a2ad8", "#bdbdbd", "#f6a623"]}, "legend": null}
        }
      },
      {
        "data": {"name": "linesB"},
        "mark": {"type": "line", "strokeWidth": 1.2},
        "encoding": {
          "x": {"field": "x", "type": "quantitative", "scale": {"domain": [-6.4, 622.8], "nice": false, "zero": false},
                "axis": {"values": [100, 200, 300, 400, 500, 600], "tickCount": 20, "title": "Position on OCA2/HERC2 scaffold (kb)", "tickSize": 5, "labelPadding": 5, "titlePadding": 3, "labelOverlap": false}},
          "y": {"field": "y", "type": "quantitative", "scale": {"domain": [-0.081, 0.563], "nice": false, "zero": false},
                "axis": {"values": [0, 0.1, 0.2, 0.3, 0.4, 0.5], "tickCount": 20, "offset": -7,
                         "labelExpr": "indexof([0, 0.2, 0.4], datum.value) >= 0 ? format(datum.value, '.1f') : ''",
                         "labelAngle": -90, "labelAlign": "center", "labelBaseline": "bottom", "tickSize": 5, "labelPadding": 4, "labelOverlap": false,
                         "title": ["Summary statistics", "(per variable site)"], "titleX": -34, "titleLineHeight": 12}},
          "color": {"field": "s", "type": "nominal", "scale": {"domain": ["Blue-eyed black lemur diversity", "Divergence", "Black lemur diversity"], "range": ["#2a2ad8", "#bdbdbd", "#f6a623"]}, "legend": null}
        }
      },
      {
        "data": {"name": "ticksB"},
        "mark": {"type": "rule", "strokeWidth": 1.2},
        "encoding": {
          "x": {"field": "x", "type": "quantitative", "scale": {"domain": [-6.4, 622.8], "nice": false, "zero": false}},
          "y": {"datum": -0.004, "type": "quantitative"},
          "y2": {"datum": -0.052},
          "color": {"field": "c", "type": "nominal", "scale": {"domain": ["Fixed differences", "Binding site changes", "HERC2", "OCA2", "Both"], "range": ["#111111", "#e8383d", "#2e8b2e", "#a855f7", "#8b2e1a"]},
                    "legend": {"orient": "none", "legendX": 537.5, "legendY": 131, "title": null, "values": ["Fixed differences", "Binding site changes"], "symbolType": "M0,-1L0,1", "symbolSize": 121, "symbolStrokeWidth": 1.5, "labelOffset": 4, "rowPadding": 1,
                               "labelExpr": "datum.label == 'Fixed differences' ? ['Fixed', 'differences'] : ['Binding site', 'changes']"}}
        }
      },
      {
        "data": {"name": "stars"},
        "mark": {"type": "text", "text": "*", "color": "#e8383d", "fontSize": 11, "baseline": "middle"},
        "encoding": {
          "x": {"field": "x", "type": "quantitative", "scale": {"domain": [-6.4, 622.8], "nice": false, "zero": false}},
          "y": {"datum": 0.014, "type": "quantitative"}
        }
      }
    ]
  }
]
}
